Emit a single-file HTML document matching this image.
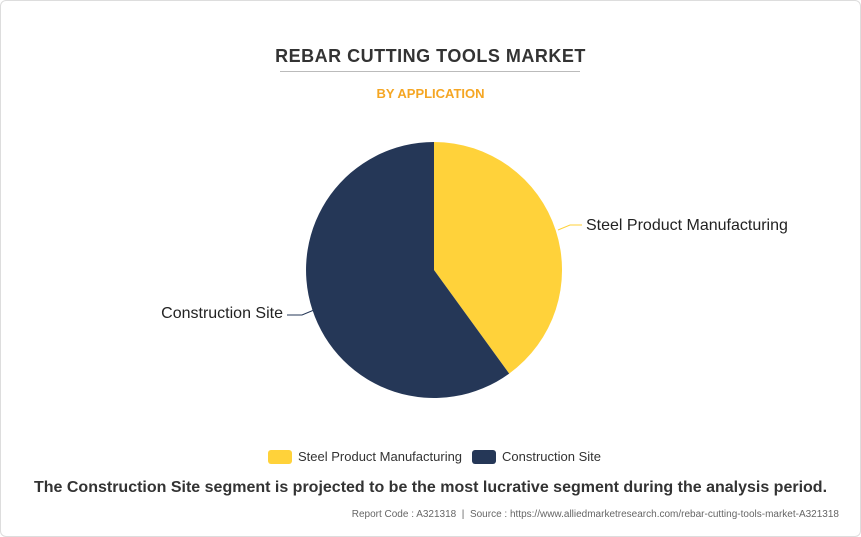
<!DOCTYPE html>
<html><head><meta charset="utf-8"><style>
body{margin:0;background:#fff;font-family:"Liberation Sans",Arial,sans-serif;}
.wrap{position:relative;width:859px;height:535px;border:1px solid #ddd;border-radius:6px;overflow:hidden;background:#fff;}
.t{position:absolute;left:-1px;width:861px;text-align:center;}
</style></head><body><div class="wrap">
<div class="t" style="top:45px;font-size:18px;font-weight:bold;color:#333;letter-spacing:0.5px">REBAR CUTTING TOOLS MARKET</div>
<div style="position:absolute;left:279px;top:70px;width:300px;height:1px;background:#bbb"></div>
<div class="t" style="top:85px;font-size:13px;font-weight:bold;color:#f5a623">BY APPLICATION</div>
<svg style="position:absolute;left:-1px;top:-1px" width="861" height="537">
<path d="M434,270 L434,142 A128,128 0 0 1 509.2,373.6 Z" fill="#ffd23a"/>
<path d="M434,270 L509.2,373.6 A128,128 0 1 1 434,142 Z" fill="#253757"/>
<polyline points="558,230 570,225 582,225" fill="none" stroke="#ffd23a" stroke-width="1"/>
<polyline points="314,310 302,315 287,315" fill="none" stroke="#253757" stroke-width="1"/>
<text x="586" y="230" font-size="16" fill="#222" font-family="Liberation Sans,Arial,sans-serif">Steel Product Manufacturing</text>
<text x="283" y="318" font-size="16" fill="#222" text-anchor="end" font-family="Liberation Sans,Arial,sans-serif">Construction Site</text>
<rect x="268" y="450" width="24" height="14" rx="3" fill="#ffd23a"/>
<text x="298" y="461" font-size="13" fill="#333" font-family="Liberation Sans,Arial,sans-serif">Steel Product Manufacturing</text>
<rect x="472" y="450" width="24" height="14" rx="3" fill="#253757"/>
<text x="502" y="461" font-size="13" fill="#333" font-family="Liberation Sans,Arial,sans-serif">Construction Site</text>
</svg>
<div class="t" style="top:478px;font-size:16px;font-weight:bold;color:#333">The Construction Site segment is projected to be the most lucrative segment during the analysis period.</div>
<div style="position:absolute;right:21px;top:508px;font-size:10px;color:#666">Report Code : A321318 &nbsp;|&nbsp; Source : https://www.alliedmarketresearch.com/rebar-cutting-tools-market-A321318</div>
</div></body></html>
